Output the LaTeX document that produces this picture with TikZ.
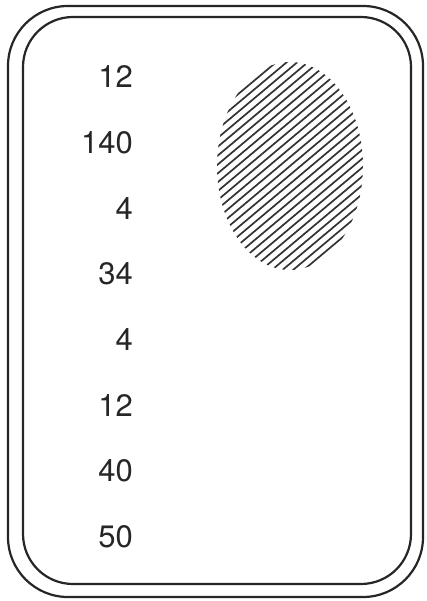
\documentclass[tikz,border=0pt]{standalone}
\usepackage{fontspec}
\setmainfont{TeX Gyre Heros}
\begin{document}
\begin{tikzpicture}[x=1pt,y=-1pt,
  frame/.style={line width=2.2pt, draw=black!85},
  num/.style={anchor=east, inner sep=0pt, font=\fontsize{31}{31}\selectfont, text=black!85},
  hatch/.style={line width=1.7pt, draw=black!80}]
\useasboundingbox (0,0) rectangle (427,601);
\fill[white] (0,0) rectangle (427,601);
\draw[frame, rounded corners=60pt] (8,6) rectangle (423,597);
\draw[frame, rounded corners=50pt] (23,17) rectangle (411,584);
\foreach \t [count=\i from 0] in {12,140,4,34,4,12,40,50}{
  \node[num] (n\i) at (133,{77+65.7*\i}) {\t};
}
\begin{scope}
  \clip (290,166) ellipse [x radius=73, y radius=104];
  \foreach \k in {-16,...,16}{
    \draw[hatch, rotate around={40:(290,166)}] (170,{166+\k*6.8}) -- (410,{166+\k*6.8});
  }
\end{scope}
\end{tikzpicture}
\end{document}
